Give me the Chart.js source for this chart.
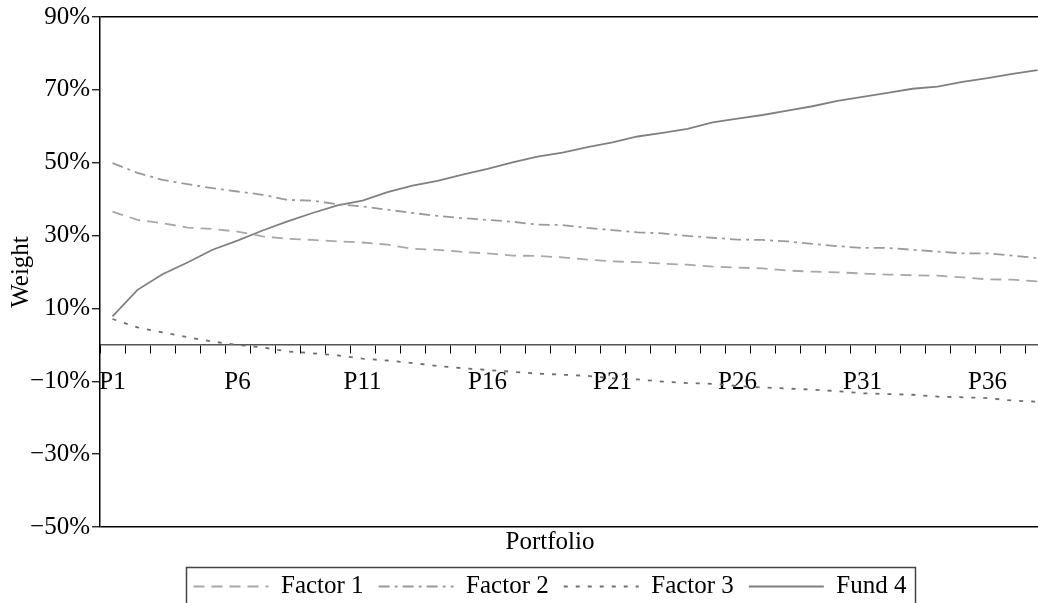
<!DOCTYPE html>
<html>
<head>
<meta charset="utf-8">
<script src="https://cdn.jsdelivr.net/npm/chart.js@4.4.1/dist/chart.umd.min.js"></script>
<style>
html,body{margin:0;padding:0;overflow:hidden;background:#fff;width:1038px;height:603px}
#wrap{position:absolute;left:0;top:0;width:1100px;height:609px}
</style>
</head>
<body>
<div id="wrap"><canvas id="c" width="1100" height="609"></canvas></div>
<script>
const categories = ['P1','P2','P3','P4','P5','P6','P7','P8','P9','P10','P11','P12','P13','P14','P15','P16','P17','P18','P19','P20','P21','P22','P23','P24','P25','P26','P27','P28','P29','P30','P31','P32','P33','P34','P35','P36','P37','P38'];
const yTickValues = [-50, -30, -10, 10, 30, 50, 70, 90];
const factor1 = [36.6, 34.3, 33.4, 32.2, 31.8, 31.1, 29.8, 29.1, 28.8, 28.4, 28.1, 27.5, 26.4, 26.1, 25.5, 25.1, 24.5, 24.4, 24.0, 23.4, 22.9, 22.7, 22.3, 22.0, 21.5, 21.2, 21.0, 20.4, 20.1, 19.9, 19.6, 19.3, 19.1, 19.0, 18.5, 18.0, 17.9, 17.4];
const factor2 = [49.9, 47.2, 45.3, 44.1, 43.0, 42.1, 41.2, 39.8, 39.6, 38.6, 38.0, 37.1, 36.2, 35.4, 34.8, 34.3, 33.8, 33.0, 32.9, 32.1, 31.5, 30.9, 30.6, 29.9, 29.4, 28.9, 28.8, 28.4, 27.7, 27.1, 26.6, 26.6, 26.1, 25.6, 25.1, 25.1, 24.5, 23.8];
const factor3 = [7.1, 4.8, 3.4, 2.1, 0.9, 0.0, -0.7, -1.8, -2.3, -2.9, -3.8, -4.3, -5.0, -5.8, -6.4, -6.9, -7.4, -7.9, -8.2, -8.5, -9.2, -9.5, -10.1, -10.5, -10.7, -11.3, -11.7, -12.0, -12.3, -12.7, -13.3, -13.5, -13.7, -14.2, -14.4, -14.6, -15.3, -15.6];
const fund4 = [7.8, 15.1, 19.4, 22.6, 26.1, 28.6, 31.4, 33.9, 36.2, 38.3, 39.6, 41.9, 43.7, 45.0, 46.7, 48.3, 50.1, 51.7, 52.8, 54.3, 55.6, 57.2, 58.2, 59.3, 61.1, 62.1, 63.1, 64.3, 65.5, 67.0, 68.1, 69.2, 70.3, 70.9, 72.2, 73.2, 74.4, 75.4];
const seriesNames = ['Factor 1', 'Factor 2', 'Factor 3', 'Fund 4'];
const xTitle = 'Portfolio';
const yTitle = 'Weight';

const FONT = "'Liberation Serif', 'Times New Roman', serif";
Chart.defaults.font.family = FONT;
Chart.defaults.font.size = 25;
Chart.defaults.color = '#000';

const legendFrame = {
  id: 'legendFrame',
  afterDraw(chart) {
    const lg = chart.legend;
    if (!lg || !lg.legendHitBoxes || !lg.legendHitBoxes.length) return;
    const hb = lg.legendHitBoxes;
    const first = hb[0], last = hb[hb.length - 1];
    const cy = first.top + first.height / 2;
    const ctx = chart.ctx;
    ctx.save();
    ctx.strokeStyle = '#444';
    ctx.lineWidth = 1.5;
    ctx.strokeRect(first.left - 7, cy - 19, (last.left + last.width) - first.left + 16, 38);
    ctx.restore();
  }
};

function ds(label, data, color, dash) {
  return {
    label, data,
    borderColor: color,
    backgroundColor: color,
    borderWidth: 1.8,
    borderDash: dash,
    pointRadius: 0,
    pointHoverRadius: 0,
    tension: 0,
    fill: false
  };
}

new Chart(document.getElementById('c'), {
  type: 'line',
  data: {
    labels: categories,
    datasets: [
      ds(seriesNames[0], factor1, '#a8a8a8', [11, 7]),
      ds(seriesNames[1], factor2, '#9a9a9a', [11, 5, 3, 5]),
      ds(seriesNames[2], factor3, '#6e6e6e', [4, 8]),
      ds(seriesNames[3], fund4, '#808080', [])
    ]
  },
  options: {
    responsive: false,
    animation: false,
    devicePixelRatio: 1,
    layout: { padding: { top: 17, left: 0, right: 0, bottom: 0 } },
    plugins: {
      tooltip: { enabled: false },
      title: {
        display: true,
        text: xTitle,
        position: 'bottom',
        weight: 100,
        font: { family: FONT, size: 25, weight: 'normal' },
        color: '#000',
        padding: { top: 0, bottom: 2 }
      },
      legend: {
        display: true,
        position: 'bottom',
        labels: {
          usePointStyle: true,
          pointStyle: 'line',
          pointStyleWidth: 75,
          padding: 15,
          font: { family: FONT, size: 25 },
          color: '#000',
          generateLabels: (chart) => {
            const items = Chart.defaults.plugins.legend.labels.generateLabels(chart);
            return items.map((it) => {
              const d = chart.data.datasets[it.datasetIndex];
              it.lineDash = d.borderDash;
              it.strokeStyle = d.borderColor;
              it.fillStyle = d.borderColor;
              it.lineWidth = d.borderWidth;
              it.pointStyle = 'line';
              return it;
            });
          }
        }
      }
    },
    scales: {
      x: {
        type: 'category',
        position: { y: 0 },
        offset: true,
        afterFit: (s) => { s.height = 0; },
        grid: { offset: true, drawOnChartArea: false, drawTicks: true, tickLength: 8, color: '#000', lineWidth: 1 },
        border: { display: true, color: '#555', width: 1.5 },
        ticks: {
          autoSkip: false, maxRotation: 0, minRotation: 0, padding: 15,
          font: { family: FONT, size: 25 }, color: '#000',
          callback: function (v, i) { return i % 5 === 0 ? this.getLabelForValue(v) : ''; }
        }
      },
      y: {
        type: 'linear',
        position: 'left',
        min: -50, max: 90,
        afterFit: (s) => { s.width = 100; },
        afterBuildTicks: (s) => { s.ticks = yTickValues.map(v => ({ value: v })); },
        grid: {
          drawOnChartArea: true, drawTicks: true, tickLength: 8,
          color: (c) => (c.tick && (c.tick.value === 90 || c.tick.value === -50)) ? '#000' : 'rgba(0,0,0,0)',
          lineWidth: 1.5, tickColor: '#000', tickWidth: 1.2
        },
        border: { display: true, color: '#000', width: 1.5 },
        ticks: {
          padding: 2, font: { family: FONT, size: 25 }, color: '#000',
          callback: (v) => (v < 0 ? '\u2212' + Math.abs(v) : String(v)) + '%'
        },
        title: { display: true, text: yTitle, font: { family: FONT, size: 25 }, color: '#000', padding: { top: 6, bottom: 0 } }
      },
      yr: {
        type: 'linear',
        position: 'right',
        display: true,
        afterFit: (s) => { s.width = 50; },
        ticks: { display: false },
        grid: { display: false, drawTicks: false },
        border: { display: false }
      }
    }
  },
  plugins: [legendFrame]
});
</script>
</body>
</html>
